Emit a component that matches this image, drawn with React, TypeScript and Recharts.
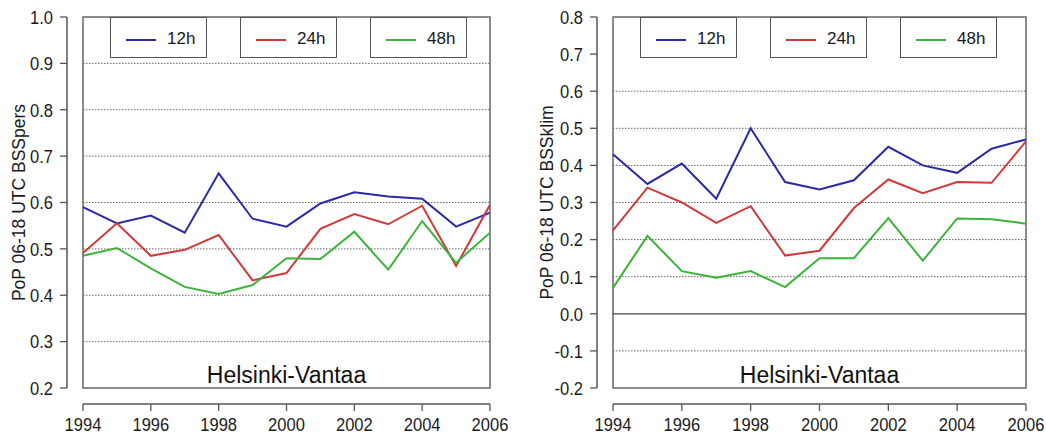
import React from 'react';
import { LineChart, Line, XAxis, YAxis, ReferenceLine, ReferenceArea, Legend } from 'recharts';

const years = [1994, 1995, 1996, 1997, 1998, 1999, 2000, 2001, 2002, 2003, 2004, 2005, 2006];

const persH12 = [0.59, 0.555, 0.572, 0.535, 0.663, 0.565, 0.548, 0.598, 0.622, 0.613, 0.608, 0.548, 0.578];
const persH24 = [0.491, 0.555, 0.485, 0.498, 0.53, 0.432, 0.448, 0.543, 0.575, 0.553, 0.593, 0.463, 0.595];
const persH48 = [0.485, 0.502, 0.458, 0.418, 0.403, 0.422, 0.48, 0.478, 0.537, 0.455, 0.56, 0.47, 0.535];

const klimH12 = [0.43, 0.35, 0.405, 0.31, 0.5, 0.355, 0.335, 0.36, 0.45, 0.4, 0.38, 0.445, 0.47];
const klimH24 = [0.225, 0.34, 0.3, 0.245, 0.29, 0.157, 0.17, 0.285, 0.362, 0.325, 0.355, 0.353, 0.465];
const klimH48 = [0.07, 0.21, 0.115, 0.097, 0.115, 0.072, 0.15, 0.15, 0.258, 0.143, 0.257, 0.255, 0.243];

const seriesNames = ['12h', '24h', '48h'];
const seriesKeys = ['h12', 'h24', 'h48'];
const seriesColors = ['#2a2aa6', '#d03a3a', '#3cb43c'];

const xTicks = [1994, 1996, 1998, 2000, 2002, 2004, 2006];
const persYTicks = [0.2, 0.3, 0.4, 0.5, 0.6, 0.7, 0.8, 0.9, 1.0];
const persGrid = [0.3, 0.4, 0.5, 0.6, 0.7, 0.8, 0.9];
const klimYTicks = [-0.2, -0.1, 0.0, 0.1, 0.2, 0.3, 0.4, 0.5, 0.6, 0.7, 0.8];
const klimGrid = [-0.1, 0.1, 0.2, 0.3, 0.4, 0.5, 0.6];

const persTitle = 'PoP 06-18 UTC BSSpers';
const klimTitle = 'PoP 06-18 UTC BSSklim';
const stationLabel = 'Helsinki-Vantaa';

const FONT = '"Liberation Sans", Arial, Helvetica, sans-serif';
const AXIS_GRAY = '#555';

const buildRows = (a: number[], b: number[], c: number[]) =>
  years.map((year, i) => ({ year, h12: a[i], h24: b[i], h48: c[i] }));

const XTick = (props: any) => {
  const { x, y, payload } = props;
  return (
    <g transform={`translate(${x},${y})`}>
      <text x={0} y={0} dy={18} textAnchor="middle" fontSize={19} fontFamily={FONT} fill="#1a1a1a" transform="scale(0.87,1)">
        {payload.value}
      </text>
    </g>
  );
};

const YTick = (props: any) => {
  const { x, y, payload } = props;
  return (
    <g transform={`translate(${x},${y})`}>
      <text x={0} y={0} dy="0.36em" textAnchor="end" fontSize={19} fontFamily={FONT} fill="#1a1a1a" transform="scale(0.87,1)">
        {Number(payload.value).toFixed(1)}
      </text>
    </g>
  );
};

const LegendBoxes = (props: any) => {
  const { payload, lefts } = props;
  return (
    <div style={{ position: 'relative', width: '100%', height: 41 }}>
      {(payload || []).map((item: any, i: number) => (
        <div
          key={item.value}
          style={{
            position: 'absolute',
            left: lefts[i],
            top: 0,
            width: 97,
            height: 41,
            border: '1px solid #555',
            boxSizing: 'border-box',
            background: '#fff',
          }}
        >
          <div style={{ position: 'absolute', left: 15, top: 21, width: 30, height: 2, background: item.color }} />
          <div
            style={{
              position: 'absolute',
              left: 56,
              top: 11,
              fontSize: 17,
              fontFamily: FONT,
              color: '#1a1a1a',
              lineHeight: 'normal',
              whiteSpace: 'nowrap',
            }}
          >
            {item.value}
          </div>
        </div>
      ))}
    </div>
  );
};

type PanelProps = {
  width: number;
  rows: any[];
  yTicks: number[];
  grid: number[];
  zero: boolean;
  title: string;
  titleX: number;
  marginRight: number;
};

const HEIGHT = 435;
const MARGIN_TOP = 17;
const AXIS_OFFSET = 16;
const Y_AXIS_W = 67;
const X_AXIS_H = 31;

const Panel = ({ width, rows, yTicks, grid, zero, title, titleX, marginRight }: PanelProps) => {
  const yLo = yTicks[0];
  const yHi = yTicks[yTicks.length - 1];
  const xLo = years[0];
  const xHi = years[years.length - 1];
  const plotW = width - Y_AXIS_W - marginRight;
  const plotH = HEIGHT - MARGIN_TOP - X_AXIS_H;
  // domains extended so that axes sit slightly outside the box (R style)
  const boxW = plotW - AXIS_OFFSET;
  const boxH = plotH - AXIS_OFFSET;
  const xMin = xLo - (AXIS_OFFSET * (xHi - xLo)) / boxW;
  const yMin = yLo - (AXIS_OFFSET * (yHi - yLo)) / boxH;
  const titleY = MARGIN_TOP + boxH / 2;

  return (
    <LineChart
      width={width}
      height={HEIGHT}
      data={rows}
      margin={{ top: MARGIN_TOP, right: marginRight, left: 0, bottom: 0 }}
    >
      <XAxis
        dataKey="year"
        type="number"
        domain={[xMin, xHi]}
        ticks={xTicks}
        interval={0}
        axisLine={false}
        tickLine={{ stroke: AXIS_GRAY, strokeWidth: 1.3 }}
        tickSize={7}
        tickMargin={2}
        height={X_AXIS_H}
        tick={(p: any) => <XTick {...p} />}
        allowDataOverflow
      />
      <YAxis
        type="number"
        domain={[yMin, yHi]}
        ticks={yTicks}
        interval={0}
        axisLine={false}
        tickLine={{ stroke: AXIS_GRAY, strokeWidth: 1.3 }}
        tickSize={7}
        tickMargin={7}
        width={Y_AXIS_W}
        tick={(p: any) => <YTick {...p} />}
        allowDataOverflow
        label={{
          content: () => (
            <text
              transform={`translate(${titleX},${titleY}) rotate(-90)`}
              textAnchor="middle"
              fontSize={17.5}
              fontFamily={FONT}
              fill="#1a1a1a"
            >
              {title}
            </text>
          ),
        }}
      />
      {grid.map((g) => (
        <ReferenceLine
          key={g}
          segment={[{ x: xLo, y: g }, { x: xHi, y: g }]}
          stroke="#666"
          strokeWidth={1}
          strokeDasharray="1.5 1.5"
        />
      ))}
      {zero && (
        <ReferenceLine segment={[{ x: xLo, y: 0 }, { x: xHi, y: 0 }]} stroke="#444" strokeWidth={1.2} />
      )}
      <ReferenceLine segment={[{ x: xLo, y: yMin }, { x: xHi, y: yMin }]} stroke={AXIS_GRAY} strokeWidth={1.5} />
      <ReferenceLine segment={[{ x: xMin, y: yLo }, { x: xMin, y: yHi }]} stroke={AXIS_GRAY} strokeWidth={1.5} />
      <ReferenceArea
        x1={xLo}
        x2={xHi}
        y1={yLo}
        y2={yHi}
        fill="none"
        fillOpacity={0}
        stroke="#666"
        strokeWidth={1.5}
        label={{
          value: stationLabel,
          position: 'insideBottom',
          offset: 5,
          fontSize: 23,
          fontFamily: FONT,
          fill: '#111',
        }}
      />
      {seriesKeys.map((k, i) => (
        <Line
          key={k}
          type="linear"
          dataKey={k}
          name={seriesNames[i]}
          stroke={seriesColors[i]}
          strokeWidth={2}
          dot={false}
          isAnimationActive={false}
        />
      ))}
      <Legend
        layout="horizontal"
        verticalAlign="middle"
        align="center"
        wrapperStyle={{ position: 'absolute', top: MARGIN_TOP, left: 0, width: width, height: 41 }}
        content={(p: any) => <LegendBoxes {...p} lefts={[110, 240, 370]} />}
      />
    </LineChart>
  );
};

export default function App() {
  const persRows = buildRows(persH12, persH24, persH48);
  const klimRows = buildRows(klimH12, klimH24, klimH48);
  return (
    <div style={{ position: 'absolute', left: 0, top: 0, width: 1046, height: 435, background: '#fff' }}>
      <div style={{ position: 'absolute', left: 0, top: 0 }}>
        <Panel width={530} rows={persRows} yTicks={persYTicks} grid={persGrid} zero={false} title={persTitle} titleX={25} marginRight={40} />
      </div>
      <div style={{ position: 'absolute', left: 530, top: 0 }}>
        <Panel width={516} rows={klimRows} yTicks={klimYTicks} grid={klimGrid} zero={true} title={klimTitle} titleX={23} marginRight={20} />
      </div>
    </div>
  );
}
